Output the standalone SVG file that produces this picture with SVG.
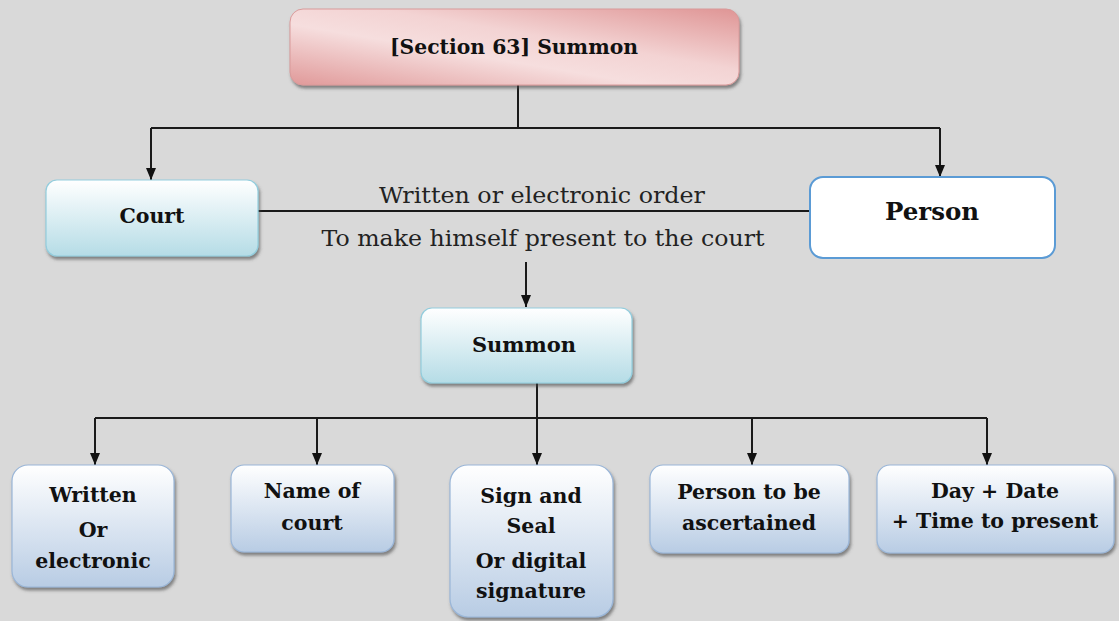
<svg xmlns="http://www.w3.org/2000/svg" width="1119" height="621" viewBox="0 0 1119 621">
  <defs>
    <linearGradient id="gPink" x1="0" y1="1" x2="1" y2="0">
      <stop offset="0" stop-color="#e09999"/>
      <stop offset="0.4" stop-color="#f6dede"/>
      <stop offset="0.6" stop-color="#f3d3d3"/>
      <stop offset="1" stop-color="#df9595"/>
    </linearGradient>
    <linearGradient id="gTeal" x1="0" y1="0" x2="0" y2="1">
      <stop offset="0" stop-color="#ffffff"/>
      <stop offset="1" stop-color="#b5dce6"/>
    </linearGradient>
    <linearGradient id="gBlue" x1="0" y1="0" x2="0" y2="1">
      <stop offset="0" stop-color="#ffffff"/>
      <stop offset="1" stop-color="#b8cce4"/>
    </linearGradient>
    <filter id="shadow" x="-10%" y="-10%" width="125%" height="135%">
      <feDropShadow dx="1.5" dy="3" stdDeviation="1.5" flood-color="#444444" flood-opacity="0.6"/>
    </filter>
    <!-- arrowhead drawn along +x; orient="auto" turns it to follow each wire -->
    <marker id="arrow" viewBox="0 0 12 10" refX="12" refY="5" markerWidth="12" markerHeight="10" markerUnits="userSpaceOnUse" orient="auto">
      <path d="M0,0 L12,5 L0,10 Z" fill="#111111"/>
    </marker>
    <style>
      .pink { fill: url(#gPink); stroke: #d99a9a; stroke-width: 1; filter: url(#shadow); }
      .teal { fill: url(#gTeal); stroke: #93cddd; stroke-width: 1.2; filter: url(#shadow); }
      .blue { fill: url(#gBlue); stroke: #9ab6d8; stroke-width: 1.2; filter: url(#shadow); }
      .plain { fill: #ffffff; stroke: #5b9bd5; stroke-width: 2; }
      .lbl { font-family: "DejaVu Serif", "Liberation Serif", serif; font-weight: bold; font-size: 20.5px; fill: #111111; text-anchor: middle; }
      .mid { font-size: 21px; }
      .big { font-size: 24.5px; }
      .edge { font-family: "DejaVu Serif", "Liberation Serif", serif; font-size: 23px; fill: #222222; text-anchor: middle; }
      .wire { fill: none; stroke: #1a1a1a; stroke-width: 2; }
      .arr { marker-end: url(#arrow); }
    </style>
  </defs>

  <rect width="1119" height="621" fill="#d9d9d9"/>

  <!-- connectors -->
  <g id="connectors">
    <path class="wire" d="M518,85 V128"/>
    <path class="wire" d="M151,128 H940"/>
    <path class="wire arr" d="M151,128 V180"/>
    <path class="wire arr" d="M940,128 V177"/>
    <path class="wire" d="M258,211 H809"/>
    <text class="edge" x="542" y="203" textLength="326" lengthAdjust="spacingAndGlyphs">Written or electronic order</text>
    <text class="edge" x="543" y="246" textLength="443" lengthAdjust="spacingAndGlyphs">To make himself present to the court</text>
    <path class="wire arr" d="M526,262 V307"/>
    <path class="wire" d="M537,383 V418"/>
    <path class="wire" d="M95,418 H987"/>
    <path class="wire arr" d="M95,418 V465"/>
    <path class="wire arr" d="M317,418 V465"/>
    <path class="wire arr" d="M537,418 V465"/>
    <path class="wire arr" d="M752,418 V465"/>
    <path class="wire arr" d="M987,418 V465"/>
  </g>

  <!-- top node -->
  <g id="node-section63">
    <rect class="pink" x="290" y="9" width="449" height="76" rx="13"/>
    <text class="lbl" x="514" y="54" textLength="248" lengthAdjust="spacingAndGlyphs">[Section 63] Summon</text>
  </g>

  <g id="node-court">
    <rect class="teal" x="46" y="180" width="212" height="76" rx="11"/>
    <text class="lbl" x="152" y="223">Court</text>
  </g>

  <g id="node-person">
    <rect class="plain" x="810" y="177" width="245" height="81" rx="13"/>
    <text class="lbl big" x="932" y="220">Person</text>
  </g>

  <g id="node-summon">
    <rect class="teal" x="421" y="308" width="211" height="75" rx="11"/>
    <text class="lbl mid" x="524" y="352">Summon</text>
  </g>

  <!-- bottom row -->
  <g id="node-written">
    <rect class="blue" x="12" y="465" width="162" height="122" rx="16"/>
    <text class="lbl" x="93" y="502">Written</text>
    <text class="lbl" x="93" y="537">Or</text>
    <text class="lbl" x="93" y="568">electronic</text>
  </g>

  <g id="node-name">
    <rect class="blue" x="231" y="465" width="163" height="87" rx="13"/>
    <text class="lbl" x="312" y="498">Name of</text>
    <text class="lbl" x="312" y="530">court</text>
  </g>

  <g id="node-sign">
    <rect class="blue" x="450" y="465" width="163" height="152" rx="18"/>
    <text class="lbl" x="531" y="503">Sign and</text>
    <text class="lbl" x="531" y="533">Seal</text>
    <text class="lbl" x="531" y="568">Or digital</text>
    <text class="lbl" x="531" y="598">signature</text>
  </g>

  <g id="node-ascertain">
    <rect class="blue" x="650" y="465" width="199" height="88" rx="13"/>
    <text class="lbl" x="749" y="499">Person to be</text>
    <text class="lbl" x="749" y="530">ascertained</text>
  </g>

  <g id="node-daydate">
    <rect class="blue" x="877" y="465" width="237" height="88" rx="13"/>
    <text class="lbl" x="995" y="498">Day + Date</text>
    <text class="lbl" x="995" y="528">+ Time to present</text>
  </g>
</svg>
